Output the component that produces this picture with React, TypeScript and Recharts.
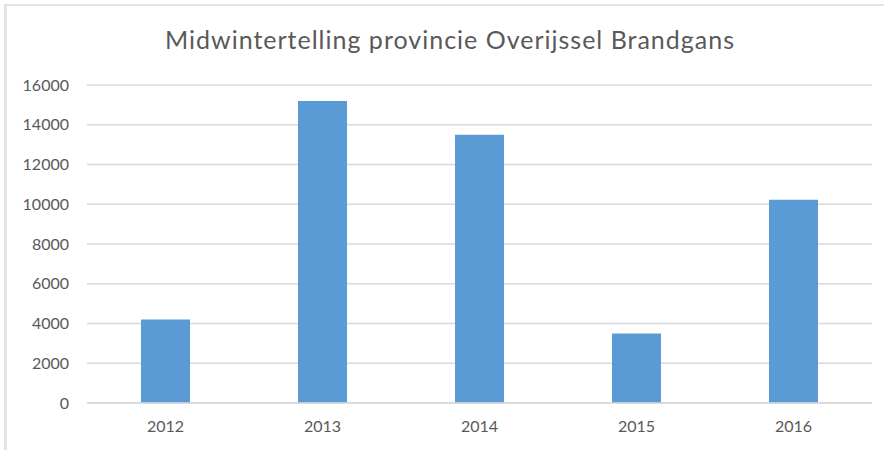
import { BarChart, Bar, XAxis, YAxis, CartesianGrid } from 'recharts';

// Midwintertelling Brandgans, provincie Overijssel
const YEARS = ['2012', '2013', '2014', '2015', '2016'];
const COUNTS = [4200, 15200, 13500, 3500, 10230];
const Y_TICKS = [0, 2000, 4000, 6000, 8000, 10000, 12000, 14000, 16000];

const data = YEARS.map((year, i) => ({ year, count: COUNTS[i] }));

const FONT = 'Lato, "Open Sans", sans-serif';
const TEXT = '#595959';
const GRID = '#d9d9d9';

export default function App() {
  return (
    <div style={{ position: 'absolute', left: 0, top: 0, width: 884, height: 450, background: '#fff', fontFamily: FONT }}>
      <div
        style={{
          position: 'absolute', left: 4, top: 4, width: 880, height: 446,
          borderTop: '2px solid #e3e3e3', borderLeft: '3px solid #e3e3e3', boxSizing: 'border-box',
        }}
      />
      <div
        style={{
          position: 'absolute', left: 0, top: 24, width: 900, textAlign: 'center',
          fontSize: 25, letterSpacing: 1, color: TEXT, fontWeight: 400, lineHeight: '30px',
        }}
      >
        Midwintertelling provincie Overijssel Brandgans
      </div>
      <div style={{ position: 'absolute', left: 0, top: 0 }}>
        <BarChart width={884} height={450} data={data} margin={{ top: 85, right: 12, bottom: 17, left: 0 }}>
          <CartesianGrid vertical={false} stroke={GRID} strokeWidth={1.5} />
          <XAxis
            dataKey="year"
            height={30}
            tickLine={false}
            tickSize={0}
            tickMargin={18}
            axisLine={{ stroke: GRID, strokeWidth: 1.5 }}
            tick={{ fontSize: 16, fill: TEXT, fontFamily: FONT }}
          />
          <YAxis
            width={87}
            domain={[0, 16000]}
            ticks={Y_TICKS}
            interval={0}
            axisLine={false}
            tickLine={false}
            tickSize={0}
            tickMargin={18}
            tick={{ fontSize: 16, fill: TEXT, fontFamily: FONT }}
          />
          <Bar dataKey="count" fill="#5b9bd5" barSize={49} isAnimationActive={false} />
        </BarChart>
      </div>
    </div>
  );
}
